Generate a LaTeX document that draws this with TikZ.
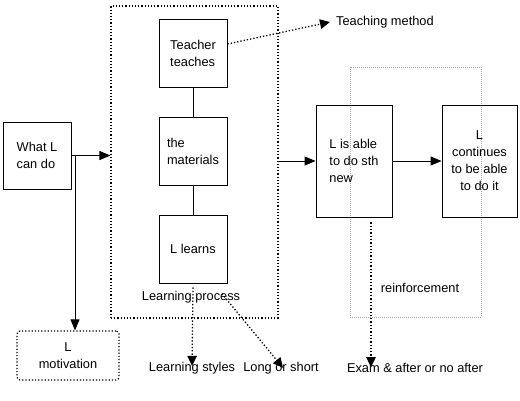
\documentclass[tikz,border=0pt]{standalone}
\usepackage{fontspec}
\setmainfont{Liberation Sans}
\usetikzlibrary{arrows.meta}

\tikzset{
    box/.style={draw, line width=0.9pt, inner sep=0pt, align=left},
    dotbox/.style={draw, line width=1.2pt, dash pattern=on 1.2pt off 2pt, inner sep=0pt},
    greybox/.style={draw=black!35, line width=0.8pt, dash pattern=on 0.8pt off 1.2pt, inner sep=0pt},
    dotarrow/.style={line width=1.3pt, dash pattern=on 1.3pt off 2pt, -{Triangle[length=10pt,width=9.5pt]}},
    solidarrow/.style={line width=0.9pt, -{Triangle[length=11pt,width=9pt]}},
    lbl/.style={inner sep=0pt, align=center}
}

\begin{document}
\begin{tikzpicture}[x=1pt, y=-1pt, font=\fontsize{12.8}{17}\selectfont]
    \useasboundingbox (0,0) rectangle (520,400);

    % containers
    \node[dotbox, minimum width=167pt, minimum height=312pt] (process) at (194.5,162) {};
    \node[greybox, minimum width=131pt, minimum height=250pt] (reinf) at (415.5,192) {};

    % boxes
    \node[box, minimum width=68pt, minimum height=67pt] (whatl) at (37,155.5) {What L\\can do};
    \node[box, minimum width=68pt, minimum height=68pt] (teach) at (193,53) {Teacher\\teaches};
    \node[box, minimum width=68pt, minimum height=68pt] (mater) at (193,151) {the\\materials};
    \node[box, minimum width=68pt, minimum height=68pt] (learn) at (193,249) {L learns};
    \node[box, minimum width=76pt, minimum height=112pt] (able) at (354,161) {L is able\\to do sth\\new};
    \node[box, minimum width=75pt, minimum height=112pt, align=center] (cont) at (479.5,161) {L\\continues\\to be able\\to do it};
    \node[dotbox, rounded corners=3pt, minimum width=102pt, minimum height=49pt, align=center] (motiv) at (68,355.5) {L\\motivation};

    % labels
    \node[lbl] (proclbl) at (191,297) {Learning process};
    \node[lbl] (reinlbl) at (420,288) {reinforcement};
    \node[lbl, anchor=west] (method) at (336,22) {Teaching method};
    \node[lbl] (styles) at (192,368) {Learning styles};
    \node[lbl] (length) at (281,368) {Long or short};
    \node[lbl] (exam) at (415,368) {Exam \& after or no after};

    \coordinate (split) at (75,155.5);

    % connectors
    \draw[line width=0.9pt] (teach) -- (mater);
    \draw[line width=0.9pt] (mater) -- (learn);
    \draw[solidarrow] (whatl.east) -- (whatl.east -| process.west);
    \draw[solidarrow] (split) -- (split |- motiv.north);
    \draw[solidarrow] (able.west -| process.east) -- (able.west);
    \draw[solidarrow] (able) -- (cont);
    \draw[dotarrow] ([yshift=9pt]teach.east) -- ([xshift=-6pt]method.west);
    \draw[dotarrow] ([yshift=-4pt]learn.south) -- ([yshift=-4pt]styles.north);
    \draw[dotarrow] ([xshift=31pt,yshift=-3pt]proclbl.north) -- ([xshift=2pt,yshift=-6pt]length.north);
    \draw[dotarrow] ([xshift=17pt,yshift=-5pt]able.south) -- ([xshift=-44pt,yshift=-4pt]exam.north);

\end{tikzpicture}
\end{document}
